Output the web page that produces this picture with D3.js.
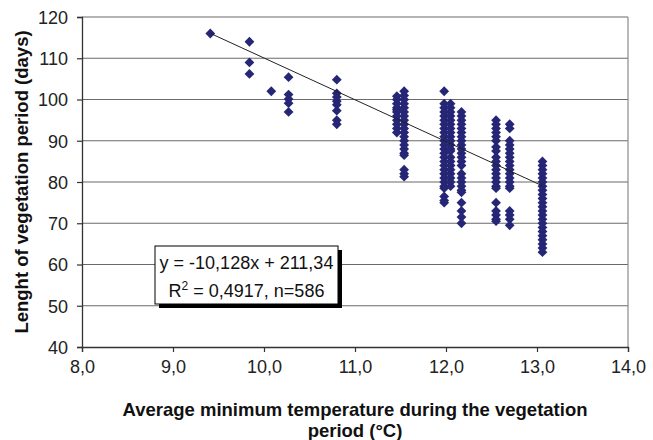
<!DOCTYPE html>
<html>
<head>
<meta charset="utf-8">
<script src="https://cdn.jsdelivr.net/npm/d3@7"></script>
<style>
body { margin: 0; background: #fff; }
svg { font-family: Arial, "Liberation Sans", sans-serif; }
</style>
</head>
<body>
<svg width="653" height="440"></svg>
<script>
// x column positions (avg min temperature, °C)
var tempCols = [9.41, 9.84, 10.08, 10.27, 10.80, 11.46, 11.54, 11.98, 12.05, 12.17, 12.55, 12.70, 13.06];
// vegetation length values (days) in each column
var daysCols = [
  [116],
  [114, 109, 106.2],
  [102],
  [105.4, 101.2, 100.1, 99.1, 97],
  [104.8, 101.5, 100.6, 99.6, 98.7, 97.3, 95, 94],
  [100.8, 100, 99, 98, 97.5, 97, 96, 95, 94, 93, 92],
  [102, 101, 100, 99, 98, 97, 96, 95, 94, 93, 92, 91, 90, 89, 88, 87, 86.5, 83, 82, 81.3],
  [102, 99, 98, 97, 96, 95, 94, 93, 92, 91, 90, 89, 88, 87, 86, 85, 84, 83, 82, 81, 80, 79, 78.5, 76.5, 75.5, 75],
  [99, 98, 97, 96, 95, 94, 93, 92, 91, 90, 89, 88, 87.5, 86, 85, 84, 83, 82, 81, 80, 79],
  [97, 96, 95, 94, 93, 92, 91, 90, 89, 88, 87, 86, 85, 84, 82, 81, 80, 79, 78, 77.5, 75, 73, 71.5, 70],
  [95, 94, 93, 92, 91, 90, 88.5, 87.5, 86, 85, 84, 83, 82, 81, 80, 79, 78.5, 75, 73, 72, 71, 70.5],
  [94, 93, 90, 89, 88, 87, 86, 85, 84, 83, 82, 81, 80, 79, 78.5, 73, 72, 71, 69.5],
  [85, 84, 83, 82, 81, 80, 79, 78, 77, 76, 75, 74, 73, 72, 71, 70, 69, 68, 67, 66, 65, 64, 63]
];
var xTicks = [8, 9, 10, 11, 12, 13, 14];
var yTicks = [40, 50, 60, 70, 80, 90, 100, 110, 120];
var slope = -10.128, intercept = 211.34;
var eqLines = ["y = -10,128x + 211,34", "R2 = 0,4917, n=586"];

var points = [];
tempCols.forEach(function(t, i) {
  daysCols[i].forEach(function(v) { points.push({x: t, y: v}); });
});

var svg = d3.select("svg");
var pLeft = 82, pRight = 628, pTop = 17, pBottom = 347;
var font = "Arial, 'Liberation Sans', sans-serif";

var x = d3.scaleLinear().domain([8, 14]).range([pLeft, pRight]);
var y = d3.scaleLinear().domain([40, 120]).range([pBottom, pTop]);

var fmt = d3.formatLocale({decimal: ",", thousands: ".", grouping: [3], currency: ["", ""]}).format(".1f");

// gridlines
svg.append("g").selectAll("line")
  .data(yTicks.slice(1))
  .enter().append("line")
  .attr("x1", pLeft).attr("x2", pRight)
  .attr("y1", d => y(d)).attr("y2", d => y(d))
  .attr("stroke", "#6a6a6a").attr("stroke-width", 1.2);

// right border
svg.append("line")
  .attr("x1", pRight).attr("x2", pRight).attr("y1", pTop).attr("y2", pBottom)
  .attr("stroke", "#8a8a8a").attr("stroke-width", 1.2);

var xAxis = svg.append("g")
  .attr("transform", "translate(0," + pBottom + ")")
  .call(d3.axisBottom(x).tickValues(xTicks).tickFormat(fmt).tickSize(5).tickPadding(8));
var yAxis = svg.append("g")
  .attr("transform", "translate(" + pLeft + ",0)")
  .call(d3.axisLeft(y).tickValues(yTicks).tickSize(5).tickPadding(9));
[xAxis, yAxis].forEach(function(a) {
  a.attr("font-family", font).attr("font-size", 18);
  a.select(".domain").attr("stroke", "#333").attr("stroke-width", 1.3);
  a.selectAll(".tick line").attr("stroke", "#333").attr("stroke-width", 1.2);
  a.selectAll(".tick text").attr("fill", "#222");
});
yAxis.selectAll(".tick text").attr("dy", "0.36em");

// points: diamonds as rotated squares
var sym = d3.symbol().type(d3.symbolSquare).size(48);
svg.append("g").selectAll("path")
  .data(points)
  .enter().append("path")
  .attr("d", sym)
  .attr("transform", d => "translate(" + x(d.x) + "," + y(d.y) + ") rotate(45)")
  .attr("fill", "#262676");

// trend line
var x0 = d3.min(tempCols), x1 = d3.max(tempCols);
svg.append("line")
  .attr("x1", x(x0)).attr("y1", y(slope * x0 + intercept))
  .attr("x2", x(x1)).attr("y2", y(slope * x1 + intercept))
  .attr("stroke", "#222").attr("stroke-width", 1);

// equation box
var bx = 155, by = 246, bw = 183, bh = 58;
svg.append("rect").attr("x", bx + 4).attr("y", by + 4).attr("width", bw).attr("height", bh).attr("fill", "#000");
svg.append("rect").attr("x", bx).attr("y", by).attr("width", bw).attr("height", bh)
  .attr("fill", "#fff").attr("stroke", "#000").attr("stroke-width", 1);
svg.append("text").attr("x", bx + bw / 2).attr("y", by + 23)
  .attr("text-anchor", "middle").attr("font-size", 18).attr("fill", "#111")
  .text(eqLines[0]);
var t2 = svg.append("text").attr("x", bx + bw / 2).attr("y", by + 51)
  .attr("text-anchor", "middle").attr("font-size", 18).attr("fill", "#111");
t2.append("tspan").text("R");
t2.append("tspan").attr("font-size", 12).attr("dy", -7).text("2");
t2.append("tspan").attr("dy", 7).text(eqLines[1].slice(2));

// axis titles
svg.selectAll(".title")
  .data([
    {t: "Average minimum temperature during the vegetation", tr: "translate(" + (pLeft + pRight) / 2 + ",416)"},
    {t: "period (°C)", tr: "translate(" + (pLeft + pRight) / 2 + ",437)"},
    {t: "Lenght of vegetation period (days)", tr: "translate(28," + (pTop + pBottom) / 2 + ") rotate(-90)"}
  ])
  .enter().append("text")
  .attr("class", "title")
  .attr("transform", d => d.tr)
  .attr("text-anchor", "middle")
  .attr("font-size", 18.5).attr("font-weight", "bold").attr("fill", "#111")
  .text(d => d.t);
</script>
</body>
</html>
